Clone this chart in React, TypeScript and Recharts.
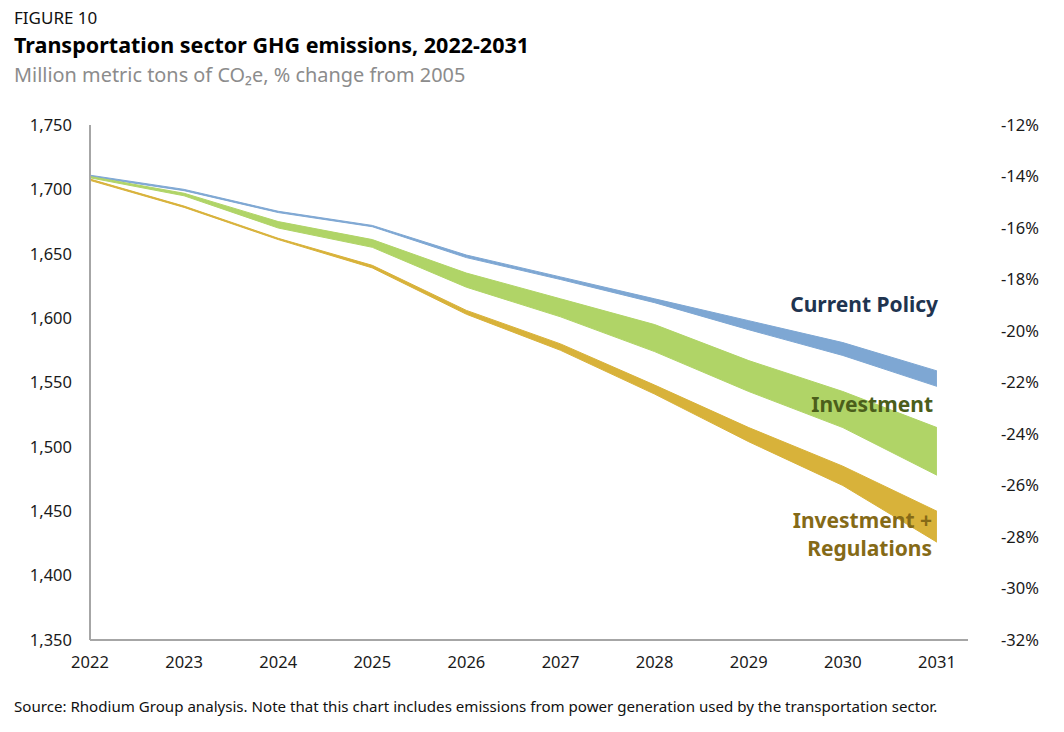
import { ComposedChart, Area, XAxis, YAxis } from 'recharts';

const years = [2022, 2023, 2024, 2025, 2026, 2027, 2028, 2029, 2030, 2031];

// Million metric tons CO2e, [low, high] per year
const currentPolicyHigh = [1711, 1700, 1683, 1672, 1649, 1632, 1615, 1598, 1581, 1559];
const currentPolicyLow = [1710, 1699, 1682, 1671, 1647, 1630, 1612, 1591, 1571, 1547];
const investmentHigh = [1710, 1697, 1675, 1661, 1635, 1615, 1595, 1567, 1543, 1515];
const investmentLow = [1709, 1695, 1670, 1655, 1624, 1601, 1574, 1543, 1515, 1478];
const regulationsHigh = [1708, 1687, 1662, 1641, 1606, 1580, 1548, 1515, 1485, 1450];
const regulationsLow = [1707, 1686, 1661, 1639, 1603, 1575, 1541, 1504, 1470, 1426];

const leftTicks = [1350, 1400, 1450, 1500, 1550, 1600, 1650, 1700, 1750];
const rightTicks = [-32, -30, -28, -26, -24, -22, -20, -18, -16, -14, -12];

const data = years.map((year, i) => ({
  year,
  current: [currentPolicyLow[i], currentPolicyHigh[i]],
  investment: [investmentLow[i], investmentHigh[i]],
  regulations: [regulationsLow[i], regulationsHigh[i]],
}));

const FONT = '"Noto Sans", "Open Sans", sans-serif';

export default function App() {
  const tickStyle = { fontFamily: FONT, fontSize: 16.5, fill: '#1a1a1a' };
  return (
    <div style={{ position: 'absolute', left: 0, top: 0, width: 1064, height: 732, background: '#fff', fontFamily: FONT }}>
      <div style={{ position: 'absolute', left: 14, top: 6, fontSize: 17, color: '#111' }}>FIGURE 10</div>
      <div style={{ position: 'absolute', left: 14, top: 30, fontSize: 21.5, fontWeight: 700, color: '#000' }}>
        Transportation sector GHG emissions, 2022-2031
      </div>
      <div style={{ position: 'absolute', left: 14, top: 61, fontSize: 19.9, color: '#8c8c8c' }}>
        Million metric tons of CO₂e, % change from 2005
      </div>

      <div style={{ position: 'absolute', left: 0, top: 0 }}>
        <ComposedChart width={1064} height={700} data={data} margin={{ top: 125, right: 36, bottom: 30, left: 30 }}>
          <XAxis
            dataKey="year"
            type="number"
            domain={[2022, 2031.33]}
            ticks={years}
            interval={0}
            tickLine={false}
            axisLine={{ stroke: '#a6a6a6', strokeWidth: 2 }}
            tick={tickStyle}
            tickMargin={10}
            height={30}
          />
          <YAxis
            yAxisId="left"
            domain={[1350, 1750]}
            ticks={leftTicks}
            interval={0}
            tickLine={false}
            axisLine={{ stroke: '#a6a6a6', strokeWidth: 2 }}
            tick={tickStyle}
            tickMargin={12}
            tickFormatter={(v: number) => v.toLocaleString('en-US')}
            width={60}
          />
          <YAxis
            yAxisId="right"
            orientation="right"
            domain={[-32, -12]}
            ticks={rightTicks}
            interval={0}
            allowDataOverflow
            tickLine={false}
            axisLine={false}
            tick={tickStyle}
            tickMargin={27}
            tickFormatter={(v: number) => `${v}%`}
            width={60}
          />
          <Area yAxisId="left" type="linear" dataKey="current" fill="#7ea7d3" fillOpacity={1} stroke="#7ea7d3" strokeWidth={1} isAnimationActive={false} />
          <Area yAxisId="left" type="linear" dataKey="investment" fill="#b0d467" fillOpacity={1} stroke="#b0d467" strokeWidth={1} isAnimationActive={false} />
          <Area yAxisId="left" type="linear" dataKey="regulations" fill="#d8b23a" fillOpacity={1} stroke="#d8b23a" strokeWidth={1} isAnimationActive={false} />
        </ComposedChart>
      </div>

      <div style={{ position: 'absolute', right: 1064 - 938, top: 290, fontSize: 21, fontWeight: 700, color: '#1f3450', textAlign: 'right' }}>
        Current Policy
      </div>
      <div style={{ position: 'absolute', right: 1064 - 933, top: 390, fontSize: 21, fontWeight: 700, color: '#4b5e1b', textAlign: 'right' }}>
        Investment
      </div>
      <div style={{ position: 'absolute', right: 1064 - 932, top: 506, fontSize: 21, fontWeight: 700, color: '#856a17', textAlign: 'right', lineHeight: '28px' }}>
        Investment +<br />Regulations
      </div>

      <div style={{ position: 'absolute', left: 14, top: 696, fontSize: 15.1, color: '#111' }}>
        Source: Rhodium Group analysis. Note that this chart includes emissions from power generation used by the transportation sector.
      </div>
    </div>
  );
}
